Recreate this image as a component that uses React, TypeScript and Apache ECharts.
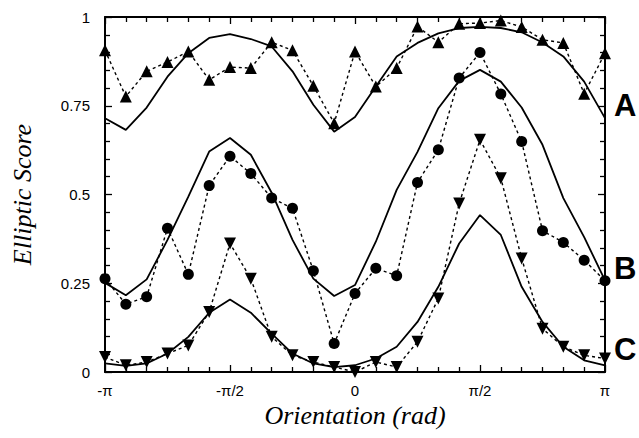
import React, { useEffect, useRef } from "react";
import * as echarts from "echarts";

// Orientation samples, in steps of pi/12
const orientationSteps = [-12, -11, -10, -9, -8, -7, -6, -5, -4, -3, -2, -1, 0, 1, 2, 3, 4, 5, 6, 7, 8, 9, 10, 11, 12];

const xTickLabels = ["-π", "-π/2", "0", "π/2", "π"];
const yTickLabels = ["0", "0.25", "0.5", "0.75", "1"];

const dataA = [0.906, 0.776, 0.847, 0.873, 0.903, 0.823, 0.859, 0.856, 0.929, 0.906, 0.806, 0.701, 0.903, 0.804, 0.856, 0.973, 0.929, 0.981, 0.983, 0.99, 0.972, 0.936, 0.927, 0.784, 0.898];
const fitA = [0.715, 0.682, 0.745, 0.832, 0.898, 0.941, 0.952, 0.938, 0.917, 0.847, 0.753, 0.677, 0.718, 0.804, 0.889, 0.927, 0.954, 0.969, 0.972, 0.969, 0.957, 0.928, 0.889, 0.818, 0.715];
const dataB = [0.263, 0.191, 0.212, 0.405, 0.275, 0.525, 0.608, 0.559, 0.49, 0.461, 0.285, 0.08, 0.221, 0.292, 0.271, 0.534, 0.626, 0.828, 0.9, 0.783, 0.649, 0.398, 0.365, 0.315, 0.257];
const fitB = [0.251, 0.216, 0.261, 0.372, 0.494, 0.621, 0.659, 0.612, 0.505, 0.372, 0.263, 0.214, 0.245, 0.367, 0.513, 0.62, 0.743, 0.82, 0.851, 0.818, 0.745, 0.64, 0.49, 0.38, 0.258];
const dataC = [0.042, 0.019, 0.028, 0.052, 0.075, 0.169, 0.362, 0.263, 0.099, 0.047, 0.028, 0.014, 0.0, 0.028, 0.014, 0.085, 0.207, 0.475, 0.654, 0.546, 0.32, 0.122, 0.071, 0.047, 0.038];
const fitC = [0.024, 0.017, 0.024, 0.052, 0.099, 0.167, 0.204, 0.167, 0.108, 0.052, 0.024, 0.014, 0.019, 0.038, 0.071, 0.141, 0.24, 0.362, 0.442, 0.386, 0.24, 0.141, 0.071, 0.033, 0.019];

const curveLabels = ["A", "B", "C"];

const PI = Math.PI;
const step = PI / 12;

function pairs(vals: number[]) {
  return orientationSteps.map((s, i) => [s * step, vals[i]]);
}

export default function App() {
  const ref = useRef<HTMLDivElement>(null);
  useEffect(() => {
    document.body.style.margin = "0";
    const chart = echarts.init(ref.current!, null, { renderer: "svg" });
    const sans = "Liberation Sans";
    const serif = "Liberation Serif";
    const axisCommon = {
      axisLine: { show: true, onZero: false, lineStyle: { color: "#000", width: 2 } },
      axisTick: { show: true, inside: true, length: 7, lineStyle: { color: "#000", width: 1.3 } },
      minorTick: { show: true, length: 5, lineStyle: { color: "#000", width: 1.3 } },
      splitLine: { show: false },
      minorSplitLine: { show: false },
    };
    const xFormatter = (v: number) => {
      const k = Math.round(v / (PI / 2));
      return xTickLabels[k + 2] ?? "";
    };
    const yFormatter = (v: number) => {
      const k = Math.round(v / 0.25);
      return yTickLabels[k] ?? "";
    };
    const dashed = (data: number[], symbol: string, size: number, rotate = 0) => ({
      type: "line",
      data: pairs(data),
      symbol,
      symbolSize: size,
      symbolRotate: rotate,
      showAllSymbol: true,
      clip: false,
      itemStyle: { color: "#000", borderWidth: 0 },
      lineStyle: { color: "#000", width: 1.4, type: [3, 3] },
      z: 3,
    });
    const solid = (data: number[]) => ({
      type: "line",
      data: pairs(data),
      symbol: "none",
      clip: false,
      lineStyle: { color: "#000", width: 1.8 },
      z: 2,
    });
    chart.setOption({
      animation: false,
      backgroundColor: "#fff",
      grid: { left: 105, right: 34, top: 17, bottom: 66 },
      xAxis: [
        {
          type: "value",
          min: -PI,
          max: PI,
          interval: PI / 2,
          minorTick: { ...axisCommon.minorTick, splitNumber: 6 },
          axisLine: axisCommon.axisLine,
          axisTick: axisCommon.axisTick,
          splitLine: axisCommon.splitLine,
          axisLabel: {
            formatter: xFormatter,
            margin: 11,
            color: "#000",
            fontFamily: sans,
            fontSize: 15,
            showMinLabel: true,
            showMaxLabel: true,
          },
          name: "Orientation (rad)",
          nameLocation: "middle",
          nameGap: 26,
          nameTextStyle: { fontFamily: serif, fontStyle: "italic", fontSize: 26, color: "#000" },
        },
        {
          type: "value",
          position: "top",
          min: -PI,
          max: PI,
          interval: PI / 2,
          minorTick: { ...axisCommon.minorTick, splitNumber: 6 },
          axisLine: axisCommon.axisLine,
          axisTick: axisCommon.axisTick,
          splitLine: axisCommon.splitLine,
          axisLabel: { show: false },
        },
      ],
      yAxis: [
        {
          type: "value",
          min: 0,
          max: 1,
          interval: 0.25,
          minorTick: { ...axisCommon.minorTick, splitNumber: 5 },
          axisLine: axisCommon.axisLine,
          axisTick: axisCommon.axisTick,
          splitLine: axisCommon.splitLine,
          axisLabel: {
            formatter: yFormatter,
            margin: 15,
            color: "#000",
            fontFamily: sans,
            fontSize: 15,
          },
          name: "Elliptic Score",
          nameLocation: "middle",
          nameGap: 70,
          nameTextStyle: { fontFamily: serif, fontStyle: "italic", fontSize: 26, color: "#000" },
        },
        {
          type: "value",
          position: "right",
          min: 0,
          max: 1,
          interval: 0.25,
          minorTick: { ...axisCommon.minorTick, splitNumber: 5 },
          axisLine: axisCommon.axisLine,
          axisTick: axisCommon.axisTick,
          splitLine: axisCommon.splitLine,
          axisLabel: { show: false },
        },
      ],
      series: [
        solid(fitA),
        dashed(dataA, "triangle", 12),
        solid(fitB),
        dashed(dataB, "circle", 11),
        solid(fitC),
        dashed(dataC, "triangle", 12, 180),
      ],
      graphic: [
        { type: "text", left: 614, top: 90, style: { text: curveLabels[0], font: `bold 31px "${sans}"`, fill: "#000" } },
        { type: "text", left: 614, top: 253, style: { text: curveLabels[1], font: `bold 31px "${sans}"`, fill: "#000" } },
        { type: "text", left: 614, top: 334, style: { text: curveLabels[2], font: `bold 31px "${sans}"`, fill: "#000" } },
      ],
    });
    return () => chart.dispose();
  }, []);
  return <div ref={ref} style={{ width: 639, height: 438 }} />;
}
